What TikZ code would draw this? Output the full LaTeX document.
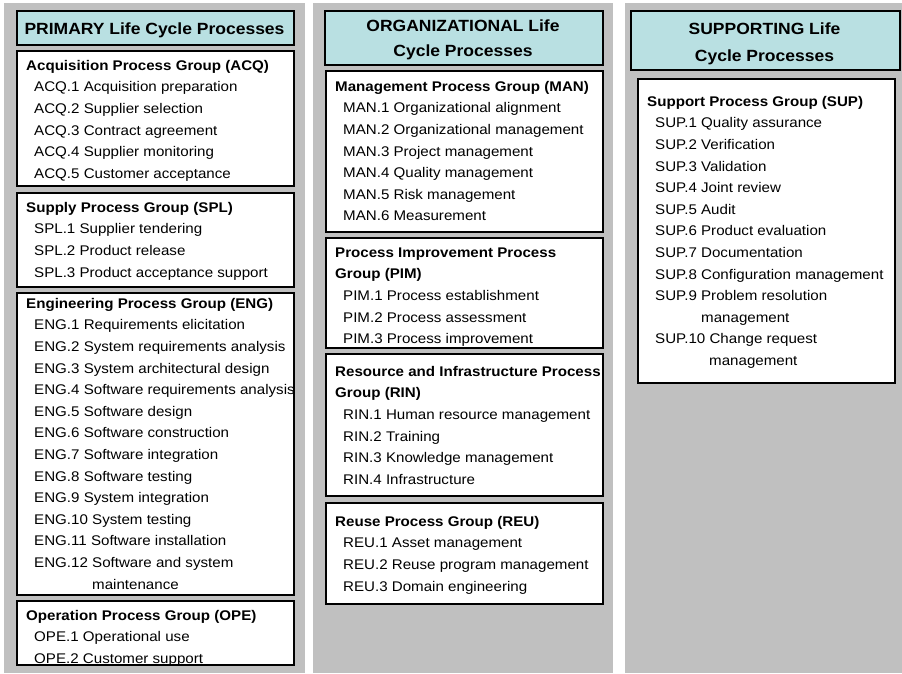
\documentclass[tikz,border=0pt]{standalone}
\usepackage{fontspec}
\setmainfont{Liberation Sans}[FakeStretch=1.08]
\usetikzlibrary{positioning}

\definecolor{colgray}{HTML}{C0C0C0}
\definecolor{headcyan}{HTML}{B9E0E2}

\newcommand{\ind}{\hspace*{8pt}}
\newcommand{\grp}[1]{\rule{0pt}{11pt}\textbf{#1}}

\begin{document}
\begin{tikzpicture}[x=1pt,y=-1pt,
	column/.style={fill=colgray,inner sep=0,anchor=north west},
	head/.style={draw=black,line width=2.4pt,fill=headcyan,inner sep=0,anchor=north west},
	group/.style={draw=black,line width=2.4pt,fill=white,inner sep=0,anchor=north west},
	title/.style={align=center,inner sep=0,anchor=base,font=\fontsize{16.2}{25}\selectfont\bfseries},
	list/.style={align=left,inner sep=0,anchor=north west,font=\fontsize{14}{21.6}\selectfont}]

		\useasboundingbox (0,0) rectangle (902,673);

		%grey columns
		\node[column,minimum width=301pt,minimum height=670pt] (c1) at (4,3) {};
		\node[column,minimum width=300pt,minimum height=670pt] (c2) at (313,3) {};
		\node[column,minimum width=277pt,minimum height=670pt] (c3) at (625,3) {};

		%primary column
		\node[head,minimum width=277pt,minimum height=34pt] (prim) at (16,10) {};
		\node[title] (primtxt) at (154.5,34.3) {PRIMARY Life Cycle Processes};

		\node[group,minimum width=277pt,minimum height=135pt] (acq) at (16,50) {};
		\node[list] (acqtxt) at (26,59) {\grp{Acquisition Process Group (ACQ)}\\
			\ind ACQ.1 Acquisition preparation\\
			\ind ACQ.2 Supplier selection\\
			\ind ACQ.3 Contract agreement\\
			\ind ACQ.4 Supplier monitoring\\
			\ind ACQ.5 Customer acceptance};

		\node[group,minimum width=277pt,minimum height=94pt] (spl) at (16,192) {};
		\node[list] (spltxt) at (26,201) {\grp{Supply Process Group (SPL)}\\
			\ind SPL.1 Supplier tendering\\
			\ind SPL.2 Product release\\
			\ind SPL.3 Product acceptance support};

		\node[group,minimum width=277pt,minimum height=302pt] (eng) at (16,292) {};
		\node[list] (engtxt) at (26,297) {\grp{Engineering Process Group (ENG)}\\
			\ind ENG.1 Requirements elicitation\\
			\ind ENG.2 System requirements analysis\\
			\ind ENG.3 System architectural design\\
			\ind ENG.4 Software requirements analysis\\
			\ind ENG.5 Software design\\
			\ind ENG.6 Software construction\\
			\ind ENG.7 Software integration\\
			\ind ENG.8 Software testing\\
			\ind ENG.9 System integration\\
			\ind ENG.10 System testing\\
			\ind ENG.11 Software installation\\
			\ind ENG.12 Software and system\\
			\hspace*{66pt}maintenance};

		\node[group,minimum width=277pt,minimum height=64pt] (ope) at (16,600) {};
		\node[list] (opetxt) at (26,609) {\grp{Operation Process Group (OPE)}\\
			\ind OPE.1 Operational use\\
			\ind OPE.2 Customer support};

		%organizational column
		\node[head,minimum width=278pt,minimum height=54pt] (org) at (324,10) {};
		\node[title] (orgtxt) at (463,56) {ORGANIZATIONAL Life\\Cycle Processes};

		\node[group,minimum width=277pt,minimum height=161pt] (man) at (325,70) {};
		\node[list] (mantxt) at (335,80) {\grp{Management Process Group (MAN)}\\
			\ind MAN.1 Organizational alignment\\
			\ind MAN.2 Organizational management\\
			\ind MAN.3 Project management\\
			\ind MAN.4 Quality management\\
			\ind MAN.5 Risk management\\
			\ind MAN.6 Measurement};

		\node[group,minimum width=277pt,minimum height=110pt] (pim) at (325,237) {};
		\node[list] (pimtxt) at (335,246) {\grp{Process Improvement Process}\\
			\textbf{Group (PIM)}\\
			\ind PIM.1 Process establishment\\
			\ind PIM.2 Process assessment\\
			\ind PIM.3 Process improvement};

		\node[group,minimum width=277pt,minimum height=142pt] (rin) at (325,353) {};
		\node[list] (rintxt) at (335,365) {\grp{Resource and Infrastructure Process}\\
			\textbf{Group (RIN)}\\
			\ind RIN.1 Human resource management\\
			\ind RIN.2 Training\\
			\ind RIN.3 Knowledge management\\
			\ind RIN.4 Infrastructure};

		\node[group,minimum width=277pt,minimum height=101pt] (reu) at (325,502) {};
		\node[list] (reutxt) at (335,515) {\grp{Reuse Process Group (REU)}\\
			\ind REU.1 Asset management\\
			\ind REU.2 Reuse program management\\
			\ind REU.3 Domain engineering};

		%supporting column
		\node[head,minimum width=269pt,minimum height=59pt] (supp) at (630,10) {};
		\node[title,font=\fontsize{16.2}{27}\selectfont\bfseries] (supptxt) at (764.5,61) {SUPPORTING Life\\Cycle Processes};

		\node[group,minimum width=257pt,minimum height=304pt] (sup) at (637,78) {};
		\node[list] (suptxt) at (647,95) {\grp{Support Process Group (SUP)}\\
			\ind SUP.1 Quality assurance\\
			\ind SUP.2 Verification\\
			\ind SUP.3 Validation\\
			\ind SUP.4 Joint review\\
			\ind SUP.5 Audit\\
			\ind SUP.6 Product evaluation\\
			\ind SUP.7 Documentation\\
			\ind SUP.8 Configuration management\\
			\ind SUP.9 Problem resolution\\
			\hspace*{54pt}management\\
			\ind SUP.10 Change request\\
			\hspace*{62pt}management};

\end{tikzpicture}
\end{document}
